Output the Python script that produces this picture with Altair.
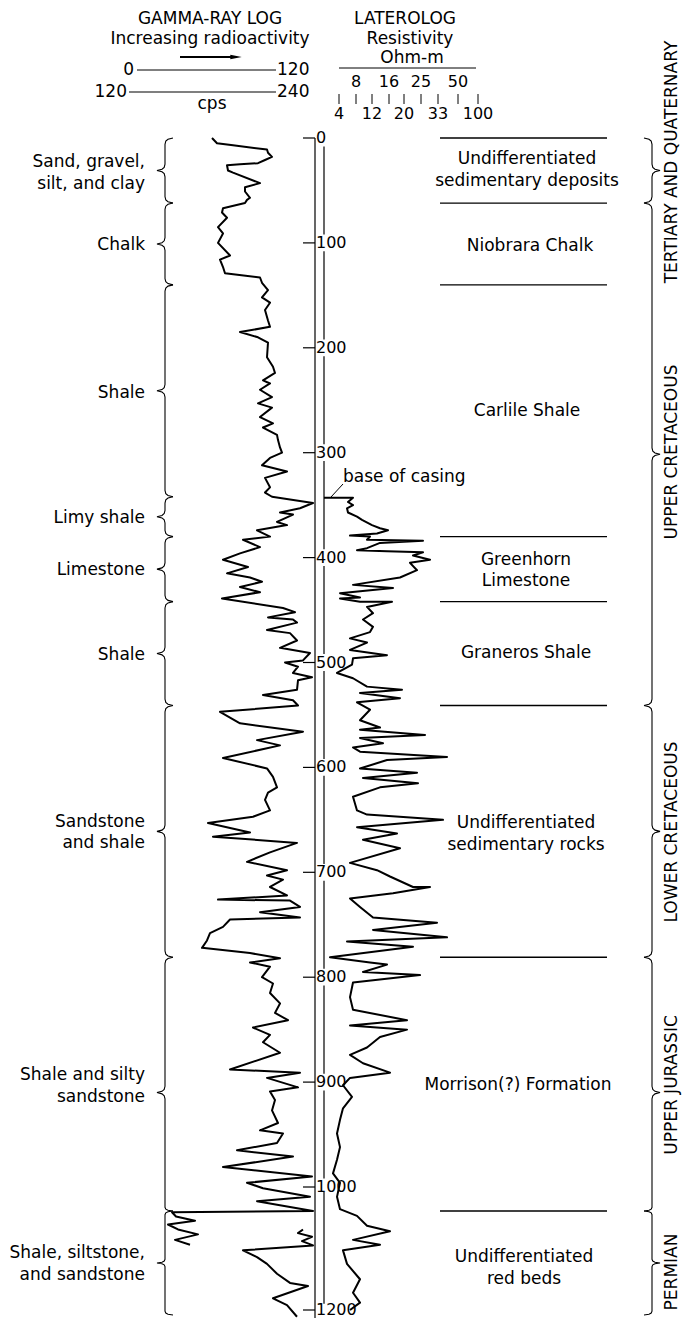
import altair as alt
import pandas as pd

FONT = "DejaVu Sans"

# ---------------- data ----------------
depth_ticks = [0, 100, 200, 300, 400, 500, 600, 700, 800, 900, 1000, 1200]

gamma_main_depth = [0, 5, 7, 11, 14, 18, 21, 24, 25, 26, 31, 33, 43, 47, 51, 57, 59, 62, 67, 71,
                    76, 85, 91, 100, 112, 116, 123, 129, 133, 138, 145, 152, 157, 164, 174, 180, 185, 190, 195, 209,
                    218, 224, 231, 234, 240, 247, 253, 257, 266, 272, 276, 283, 288, 295, 300, 305, 312, 318, 324, 333,
                    338, 342, 348, 353, 357, 359, 366, 369, 374, 380, 383, 390, 396, 402, 409, 415, 419, 423, 428, 433,
                    439, 448, 452, 457, 459, 462, 469, 472, 479, 486, 491, 498, 500, 504, 510, 514, 517, 526, 531, 536,
                    541, 547, 558, 566, 574, 579, 591, 601, 609, 619, 624, 631, 641, 647, 653, 662, 666, 672, 681, 690,
                    698, 703, 707, 714, 722, 726, 727, 733, 738, 743, 745, 752, 758, 765, 772, 777, 782, 786, 790, 800,
                    806, 815, 825, 834, 841, 848, 855, 862, 872, 888, 891, 896, 905, 909, 917, 927, 939, 946, 949, 958,
                    965, 971, 981, 990, 996, 1002, 1016, 1023, 1039, 1041, 1048, 1055, 1061, 1069, 1077, 1086, 1094]
gamma_main_cps = [48, 53, 69, 103, 104, 108, 101, 94, 76, 63, 64, 69, 96, 81, 81, 86, 83, 81, 59, 58,
                  63, 54, 59, 54, 66, 56, 59, 61, 96, 98, 104, 98, 106, 101, 104, 106, 76, 94, 104, 103,
                  109, 111, 99, 106, 96, 108, 94, 108, 96, 109, 99, 113, 114, 116, 118, 106, 98, 123, 101, 106,
                  101, 108, 149, 136, 116, 129, 113, 123, 93, 106, 79, 96, 76, 59, 84, 63, 86, 98, 76, 96,
                  58, 119, 131, 104, 129, 133, 103, 126, 133, 116, 146, 139, 121, 134, 129, 148, 134, 133, 99, 129,
                  134, 56, 76, 139, 93, 116, 59, 103, 109, 113, 104, 101, 106, 89, 44, 86, 49, 133, 106, 83,
                  123, 103, 119, 106, 123, 54, 126, 136, 96, 136, 66, 59, 46, 43, 38, 86, 116, 86, 106, 98,
                  109, 106, 116, 111, 124, 89, 106, 99, 116, 66, 136, 103, 134, 106, 111, 108, 114, 96, 119, 113,
                  73, 129, 59, 148, 83, 99, 146, 93, 149, 8, 12, 31, 4, 14, 34, 11, 26]

gamma_low_depth = [1069, 1075, 1081, 1088, 1095, 1103, 1114, 1125, 1141, 1156, 1161, 1181, 1192, 1211]
gamma_low_cps = [139, 134, 148, 138, 149, 79, 93, 103, 113, 126, 144, 109, 123, 133]

lat_depth = [343, 343, 347, 350, 353, 357, 361, 364, 369, 372, 374, 377, 379, 380, 383, 384, 386, 391, 393, 394,
             395, 398, 402, 405, 412, 419, 426, 429, 434, 438, 439, 442, 442, 447, 453, 459, 466, 471, 477, 481,
             488, 493, 496, 502, 510, 515, 523, 526, 529, 534, 538, 545, 555, 562, 564, 569, 572, 577, 581, 585,
             590, 593, 601, 605, 610, 615, 619, 628, 641, 645, 650, 657, 663, 669, 677, 691, 698, 704, 714, 714,
             720, 725, 733, 743, 748, 755, 762, 766, 771, 781, 786, 788, 795, 798, 805, 819, 831, 841, 846, 850,
             857, 867, 874, 882, 891, 896, 903, 914, 925, 936, 949, 962, 974, 987, 996, 1016, 1036, 1047, 1063, 1072,
             1086, 1094, 1103, 1125, 1150, 1172, 1188, 1200]
lat_res = [6, 35, 30, 35, 29, 30, 39, 44, 54, 62, 70, 59, 32, 52, 49, 105, 62, 49, 39, 69,
           105, 95, 112, 92, 99, 82, 35, 75, 22, 42, 22, 42, 74, 49, 55, 45, 55, 52, 32, 49,
           32, 69, 35, 34, 19, 35, 49, 84, 42, 82, 39, 52, 42, 62, 42, 107, 42, 65, 35, 42,
           129, 69, 42, 99, 45, 100, 62, 35, 39, 49, 125, 39, 79, 45, 82, 32, 59, 72, 95, 112,
           75, 32, 42, 55, 119, 55, 129, 29, 95, 12, 52, 69, 45, 102, 35, 32, 35, 89, 32, 89,
           62, 49, 32, 45, 72, 32, 25, 34, 25, 22, 19, 22, 19, 15, 22, 19, 22, 39, 49, 72,
           35, 62, 25, 29, 42, 35, 42, 32]

litho_bounds = [0, 62, 140, 342, 380, 442, 541, 781, 1039, 1208]
litho_labels = [["Sand, gravel,", "silt, and clay"], ["Chalk"], ["Shale"], ["Limy shale"], ["Limestone"],
                ["Shale"], ["Sandstone", "and shale"], ["Shale and silty", "sandstone"],
                ["Shale, siltstone,", "and sandstone"]]

formation_bounds = [0, 62, 140, 380, 442, 541, 781, 1039]
formation_names = [["Undifferentiated", "sedimentary deposits"], ["Niobrara Chalk"], ["Carlile Shale"],
                   ["Greenhorn", "Limestone"], ["Graneros Shale"], ["Undifferentiated", "sedimentary rocks"],
                   ["Morrison(?) Formation"], ["Undifferentiated", "red beds"]]

period_bounds = [0, 62, 541, 781, 1039, 1208]
period_names = ["TERTIARY AND QUATERNARY", "UPPER CRETACEOUS", "LOWER CRETACEOUS", "UPPER JURASSIC", "PERMIAN"]

lat_scale_top = ["8", "16", "25", "50"]
lat_scale_bottom = ["4", "12", "20", "33", "100"]

# ---------------- helpers ----------------
one = pd.DataFrame({"a": [0]})
ys = alt.Scale(domain=[0, 1000, 1200], range=[130, 1179, 1302], nice=False, zero=False)
TS = 17  # main text size


def P(v):
    return v - 8


def txt(s, x, y, size=TS, align="center", angle=0):
    return alt.Chart(one).mark_text(text=s, fontSize=size, align=align, baseline="middle",
                                    angle=angle, font=FONT, color="black").encode(
        x=alt.value(P(x)), y=alt.value(P(y)))


def hrule(x1, x2, y, w=1.2):
    return alt.Chart(one).mark_rule(color="black", strokeWidth=w).encode(
        x=alt.value(P(x1)), x2=alt.value(P(x2)), y=alt.value(P(y)))


def vrule(x, y1, y2, w=1.2):
    return alt.Chart(one).mark_rule(color="black", strokeWidth=w).encode(
        x=alt.value(P(x)), y=alt.value(P(y1)), y2=alt.value(P(y2)))


layers = []

# ---------------- header ----------------
layers += [
    txt("GAMMA-RAY LOG", 210, 19),
    txt("Increasing  radioactivity", 210, 39),
    hrule(180, 232, 57, 2.0),
    txt("0", 134, 70, TS, "right"),
    hrule(137, 276, 70, 1.0),
    txt("120", 277, 70, TS, "left"),
    txt("120", 127, 92, TS, "right"),
    hrule(129, 276, 92, 1.2),
    txt("240", 277, 92, TS, "left"),
    txt("cps", 212, 104),
    txt("LATEROLOG", 405, 19),
    txt("Resistivity", 410, 39),
    txt("Ohm-m", 412, 58),
    hrule(339, 476, 68, 1.0),
]
layers.append(alt.Chart(one).mark_point(shape="M -1 -0.4 L 1 0 L -1 0.4 Z", filled=True,
                                        color="black", size=130, opacity=1).encode(
    x=alt.value(P(236)), y=alt.value(P(57))))
top_x = [356, 389, 421, 458]
bot_x = [339, 372, 404, 438, 478]
for s, x in zip(lat_scale_top, top_x):
    layers.append(txt(s, x, 82, 16))
for s, x in zip(lat_scale_bottom, bot_x):
    layers.append(txt(s, x, 114, 16))
for x in sorted(top_x + bot_x):
    layers.append(vrule(x, 94, 104, 1.0))

# ---------------- depth axis ----------------
tick_df = pd.DataFrame({"d": depth_ticks, "lab": [str(v) for v in depth_ticks]})
layers.append(alt.Chart(tick_df).mark_rule(color="black", strokeWidth=1.2).encode(
    x=alt.value(P(303)), x2=alt.value(P(315)), y=alt.Y("d:Q", scale=ys, axis=None)))
layers.append(alt.Chart(tick_df).mark_text(align="left", baseline="middle", fontSize=16, font=FONT,
                                           color="black").encode(
    x=alt.value(P(316)), y=alt.Y("d:Q", scale=ys, axis=None), text="lab:N"))
layers.append(alt.Chart(pd.DataFrame({"d0": [0], "d1": [1215]})).mark_rule(color="black", strokeWidth=1.2).encode(
    x=alt.value(P(315)), y=alt.Y("d0:Q", scale=ys, axis=None), y2="d1:Q"))
seg_s = [d + 8 for d in depth_ticks[:-1]]
seg_e = [d - 8 for d in depth_ticks[1:]]
seg_e[-1] = 1190
layers.append(alt.Chart(pd.DataFrame({"s": seg_s, "e": seg_e})).mark_rule(color="black", strokeWidth=1.2).encode(
    x=alt.value(P(324)), y=alt.Y("s:Q", scale=ys, axis=None), y2="e:Q"))

# ---------------- logs ----------------
gdf = pd.DataFrame({
    "d": gamma_main_depth + gamma_low_depth,
    "g": gamma_main_cps + gamma_low_cps,
    "seg": [0] * len(gamma_main_depth) + [1] * len(gamma_low_depth),
    "i": list(range(len(gamma_main_depth))) + list(range(len(gamma_low_depth))),
})
layers.append(alt.Chart(gdf).mark_line(color="black", strokeWidth=2.0, strokeJoin="round").encode(
    x=alt.X("g:Q", scale=alt.Scale(domain=[0, 150], range=[P(164), P(314)], nice=False, zero=False), axis=None),
    y=alt.Y("d:Q", scale=ys, axis=None), detail="seg:N", order="i:Q"))

ldf = pd.DataFrame({"d": lat_depth, "r": lat_res, "i": list(range(len(lat_depth)))})
layers.append(alt.Chart(ldf).mark_line(color="black", strokeWidth=2.0, strokeJoin="round").encode(
    x=alt.X("r:Q", scale=alt.Scale(domain=[0, 130], range=[P(318), P(448)], nice=False, zero=False), axis=None),
    y=alt.Y("d:Q", scale=ys, axis=None), order="i:Q"))

# base of casing
layers.append(alt.Chart(pd.DataFrame({"x": [P(331), P(343)], "y": [P(497), P(484)]})).mark_line(
    color="black", strokeWidth=1.0).encode(
    x=alt.X("x:Q", scale=alt.Scale(domain=[0, 674], range=[0, 674]), axis=None),
    y=alt.Y("y:Q", scale=alt.Scale(domain=[0, 1310], range=[0, 1310]), axis=None)))
layers.append(txt("base of casing", 343, 477, TS, "left"))

# ---------------- formation lines & names ----------------
layers.append(alt.Chart(pd.DataFrame({"d": formation_bounds})).mark_rule(color="black", strokeWidth=1.3).encode(
    x=alt.value(P(440)), x2=alt.value(P(607)), y=alt.Y("d:Q", scale=ys, axis=None)))

form_y = [[159, 181], [246], [411], [560, 581], [653], [823, 845], [1085], [1257, 1279]]
form_x = [527, 530, 527, 526, 526, 526, 518, 524]
for names, yy, xx in zip(formation_names, form_y, form_x):
    for n, y in zip(names, yy):
        layers.append(txt(n, xx, y))

# lithology labels
lith_y = [[162, 184], [245], [393], [518], [570], [655], [822, 843], [1075, 1097], [1253, 1275]]
for names, yy in zip(litho_labels, lith_y):
    for n, y in zip(names, yy):
        layers.append(txt(n, 145, y, TS, "right"))

# period labels
per_y = [162, 452, 832, 1085, 1272]
for n, y in zip(period_names, per_y):
    layers.append(txt(n, 672, y, 17, "center", 270))


# ---------------- braces ----------------
def brace(top, bot, spine, side, bid):
    mid = (top + bot) / 2.0
    c = 6
    pts = [(spine - side * 8, top), (spine - side * 3, top + 1.2), (spine - side * 0.8, top + 3), (spine, top + c),
           (spine, mid - c), (spine + side * 0.8, mid - 3), (spine + side * 3, mid - 1.2), (spine + side * 8, mid),
           (spine + side * 3, mid + 1.2), (spine + side * 0.8, mid + 3), (spine, mid + c),
           (spine, bot - c), (spine - side * 0.8, bot - 3), (spine - side * 3, bot - 1.2), (spine - side * 8, bot)]
    return [{"bx": P(x), "bd": d, "bid": bid, "bo": k} for k, (x, d) in enumerate(pts)]


rows = []
for k in range(len(litho_bounds) - 1):
    rows += brace(litho_bounds[k], litho_bounds[k + 1], 165, -1, "L%d" % k)
for k in range(len(period_bounds) - 1):
    rows += brace(period_bounds[k], period_bounds[k + 1], 652, 1, "R%d" % k)
bdf = pd.DataFrame(rows)
layers.append(alt.Chart(bdf).mark_line(color="black", strokeWidth=1.1).encode(
    x=alt.X("bx:Q", scale=alt.Scale(domain=[0, 674], range=[0, 674], nice=False, zero=False), axis=None),
    y=alt.Y("bd:Q", scale=ys, axis=None), detail="bid:N", order="bo:Q"))

chart = alt.layer(*layers).resolve_scale(x="independent", y="independent").properties(
    width=674, height=1310, padding=0, autosize="none"
).configure_view(stroke=None)

chart.save("out.html", embed_options={"renderer": "svg", "actions": False})
